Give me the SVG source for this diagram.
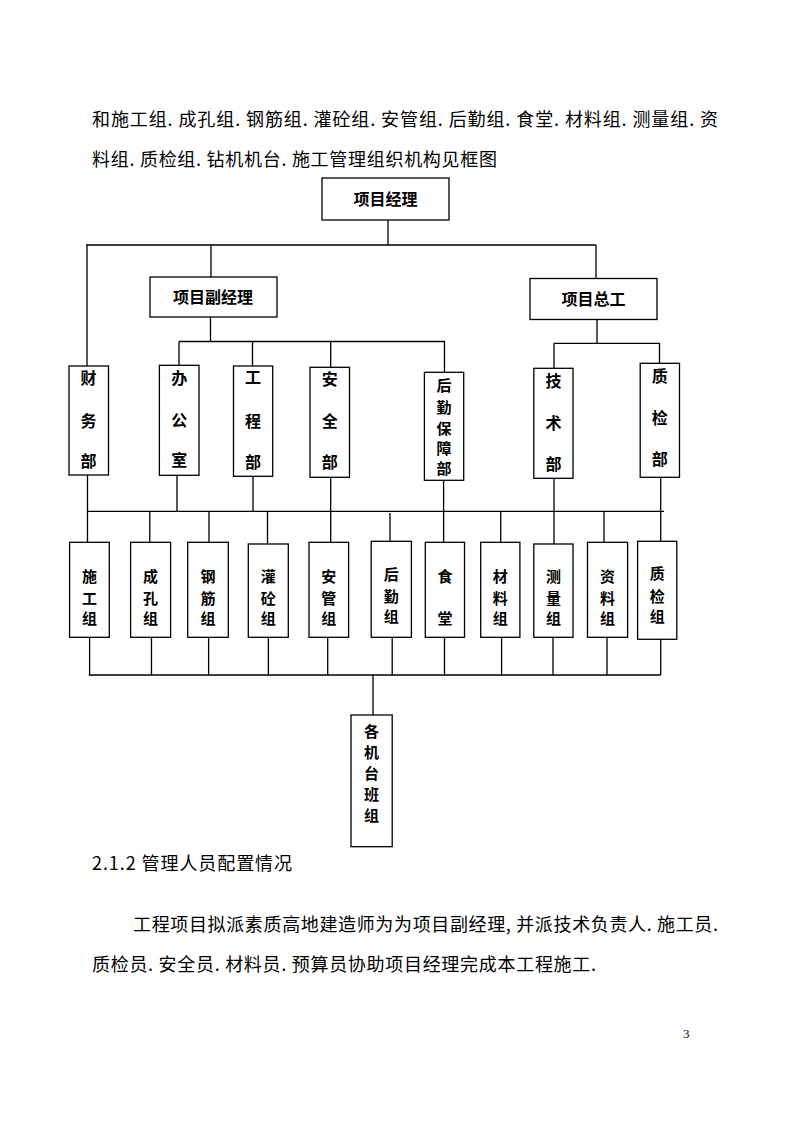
<svg xmlns="http://www.w3.org/2000/svg" width="794" height="1123" viewBox="0 0 794 1123">
<style>
.box{fill:#fff;stroke:#000;stroke-width:1.3}
.ln{stroke:#000;stroke-width:1.3;fill:none}
.lbl{font-family:"Noto Sans CJK SC","Noto Sans",sans-serif;font-size:16px;font-weight:bold;text-anchor:middle;dominant-baseline:central;fill:#000}
.sm{font-size:15px}
.body{font-family:"Noto Sans CJK SC","Noto Sans",sans-serif;font-size:18px;fill:#000;dominant-baseline:central}
.pg{font-family:"Liberation Serif",serif;font-size:13px;fill:#000}
</style>
<rect width="794" height="1123" fill="#fff"/>

<g id="text-top">
<text class="body" x="92" y="118" textLength="626" lengthAdjust="spacing">和施工组. 成孔组. 钢筋组. 灌砼组. 安管组. 后勤组. 食堂. 材料组. 测量组. 资</text>
<text class="body" x="92" y="158" textLength="405" lengthAdjust="spacing">料组. 质检组. 钻机机台. 施工管理组织机构见框图</text>
</g>

<g id="connectors">
<path class="ln" d="M388,220V245 M86,245H596 M87,245V366 M211,245V277 M596,245V278"/>
<path class="ln" d="M210.5,317V341.5 M179,341.5H445 M179,341.5V365 M252.5,341.5V366 M330.7,341.5V367 M444.5,341.5V372"/>
<path class="ln" d="M597,319V343.3 M554,343.3H660 M554,343.3V368 M659.5,343.3V363"/>
<path class="ln" d="M87.5,475V542 M177,475V511 M253,476V511 M330.7,477V542 M443.6,480V542 M554,478V544 M660.7,477V541"/>
<path class="ln" d="M88,511.3H664 M149.8,511V542 M209,511V542 M267.5,511V544 M390,513V541 M500.7,511V542 M604,511V542"/>
<path class="ln" d="M89.6,637V675 M151.5,637V675 M208.6,637V675 M268.4,637V675 M327.7,637V675 M392.2,637V675 M444.5,637V675 M501.6,637V675 M553,637V675 M607,637V675 M660.7,639V675 M88.8,675H660.7 M373,675V715"/>
</g>

<g id="n-pm"><rect class="box" x="322" y="178" width="127" height="42"/><text class="lbl" x="385.5" y="198">项目经理</text></g>
<g id="n-dpm"><rect class="box" x="150" y="277" width="127" height="40"/><text class="lbl" x="213" y="296">项目副经理</text></g>
<g id="n-ce"><rect class="box" x="530" y="278.5" width="127" height="41"/><text class="lbl" x="593.5" y="297.5">项目总工</text></g>

<g id="n-cw"><rect class="box" x="69" y="366" width="39.5" height="109"/><text class="lbl"><tspan x="88.5" y="377">财</tspan><tspan x="88.5" y="420">务</tspan><tspan x="88.5" y="460">部</tspan></text></g>
<g id="n-bgs"><rect class="box" x="159.4" y="365.3" width="39.6" height="110"/><text class="lbl"><tspan x="179.2" y="377">办</tspan><tspan x="179.2" y="419">公</tspan><tspan x="179.2" y="459">室</tspan></text></g>
<g id="n-gcb"><rect class="box" x="233.5" y="366" width="39.2" height="110.3"/><text class="lbl"><tspan x="253.1" y="376">工</tspan><tspan x="253.1" y="420">程</tspan><tspan x="253.1" y="461">部</tspan></text></g>
<g id="n-aqb"><rect class="box" x="310" y="367.3" width="39.5" height="110"/><text class="lbl"><tspan x="329.8" y="378">安</tspan><tspan x="329.8" y="420">全</tspan><tspan x="329.8" y="461">部</tspan></text></g>
<g id="n-hqbzb"><rect class="box" x="424.4" y="372.3" width="39.3" height="108"/><text class="lbl sm"><tspan x="444" y="384">后</tspan><tspan x="444" y="405.5">勤</tspan><tspan x="444" y="426.5">保</tspan><tspan x="444" y="447">障</tspan><tspan x="444" y="467">部</tspan></text></g>
<g id="n-jsb"><rect class="box" x="533.8" y="368.3" width="39.2" height="110"/><text class="lbl"><tspan x="553.4" y="380">技</tspan><tspan x="553.4" y="422">术</tspan><tspan x="553.4" y="463">部</tspan></text></g>
<g id="n-zjb"><rect class="box" x="640.2" y="363.3" width="39.3" height="114"/><text class="lbl"><tspan x="659.8" y="375">质</tspan><tspan x="659.8" y="417">检</tspan><tspan x="659.8" y="458">部</tspan></text></g>

<g id="n-sgz"><rect class="box" x="69.6" y="542.3" width="39.7" height="95"/><text class="lbl sm"><tspan x="89.5" y="575">施</tspan><tspan x="89.5" y="597">工</tspan><tspan x="89.5" y="617">组</tspan></text></g>
<g id="n-ckz"><rect class="box" x="130.6" y="542.3" width="40" height="95"/><text class="lbl sm"><tspan x="150.6" y="575">成</tspan><tspan x="150.6" y="597">孔</tspan><tspan x="150.6" y="617">组</tspan></text></g>
<g id="n-gjz"><rect class="box" x="187.7" y="542.3" width="40.6" height="95"/><text class="lbl sm"><tspan x="208" y="575">钢</tspan><tspan x="208" y="597">筋</tspan><tspan x="208" y="617">组</tspan></text></g>
<g id="n-gtz"><rect class="box" x="248.3" y="544" width="40" height="93.3"/><text class="lbl sm"><tspan x="268.3" y="575">灌</tspan><tspan x="268.3" y="597">砼</tspan><tspan x="268.3" y="617">组</tspan></text></g>
<g id="n-agz"><rect class="box" x="309" y="542.3" width="39.6" height="95"/><text class="lbl sm"><tspan x="328.8" y="575">安</tspan><tspan x="328.8" y="597">管</tspan><tspan x="328.8" y="617">组</tspan></text></g>
<g id="n-hqz"><rect class="box" x="371.2" y="541.3" width="40.2" height="96"/><text class="lbl sm"><tspan x="391.3" y="573">后</tspan><tspan x="391.3" y="595">勤</tspan><tspan x="391.3" y="615">组</tspan></text></g>
<g id="n-st"><rect class="box" x="425.3" y="542.3" width="39.2" height="95"/><text class="lbl sm"><tspan x="444.9" y="575">食</tspan><tspan x="444.9" y="617">堂</tspan></text></g>
<g id="n-clz"><rect class="box" x="480.7" y="542.3" width="39.2" height="95"/><text class="lbl sm"><tspan x="500.3" y="575">材</tspan><tspan x="500.3" y="597">料</tspan><tspan x="500.3" y="617">组</tspan></text></g>
<g id="n-clz2"><rect class="box" x="533.8" y="544" width="39.2" height="93.3"/><text class="lbl sm"><tspan x="553.4" y="575">测</tspan><tspan x="553.4" y="597">量</tspan><tspan x="553.4" y="617">组</tspan></text></g>
<g id="n-zlz"><rect class="box" x="587.5" y="542.3" width="40.1" height="95"/><text class="lbl sm"><tspan x="607.5" y="575">资</tspan><tspan x="607.5" y="597">料</tspan><tspan x="607.5" y="617">组</tspan></text></g>
<g id="n-zjz"><rect class="box" x="637.6" y="541.3" width="39.2" height="98"/><text class="lbl sm"><tspan x="657.2" y="572">质</tspan><tspan x="657.2" y="595">检</tspan><tspan x="657.2" y="615">组</tspan></text></g>

<g id="n-jtbz"><rect class="box" x="351" y="715" width="41.2" height="131.7"/><text class="lbl sm"><tspan x="371.6" y="730">各</tspan><tspan x="371.6" y="751">机</tspan><tspan x="371.6" y="772">台</tspan><tspan x="371.6" y="793">班</tspan><tspan x="371.6" y="814">组</tspan></text></g>

<g id="text-bottom">
<text class="body" x="92" y="862" textLength="200" lengthAdjust="spacing">2.1.2 管理人员配置情况</text>
<text class="body" x="133" y="923" textLength="585" lengthAdjust="spacing">工程项目拟派素质高地建造师为为项目副经理, 并派技术负责人. 施工员.</text>
<text class="body" x="92" y="963" textLength="504" lengthAdjust="spacing">质检员. 安全员. 材料员. 预算员协助项目经理完成本工程施工.</text>
<text class="pg" x="683" y="1038">3</text>
</g>
</svg>
